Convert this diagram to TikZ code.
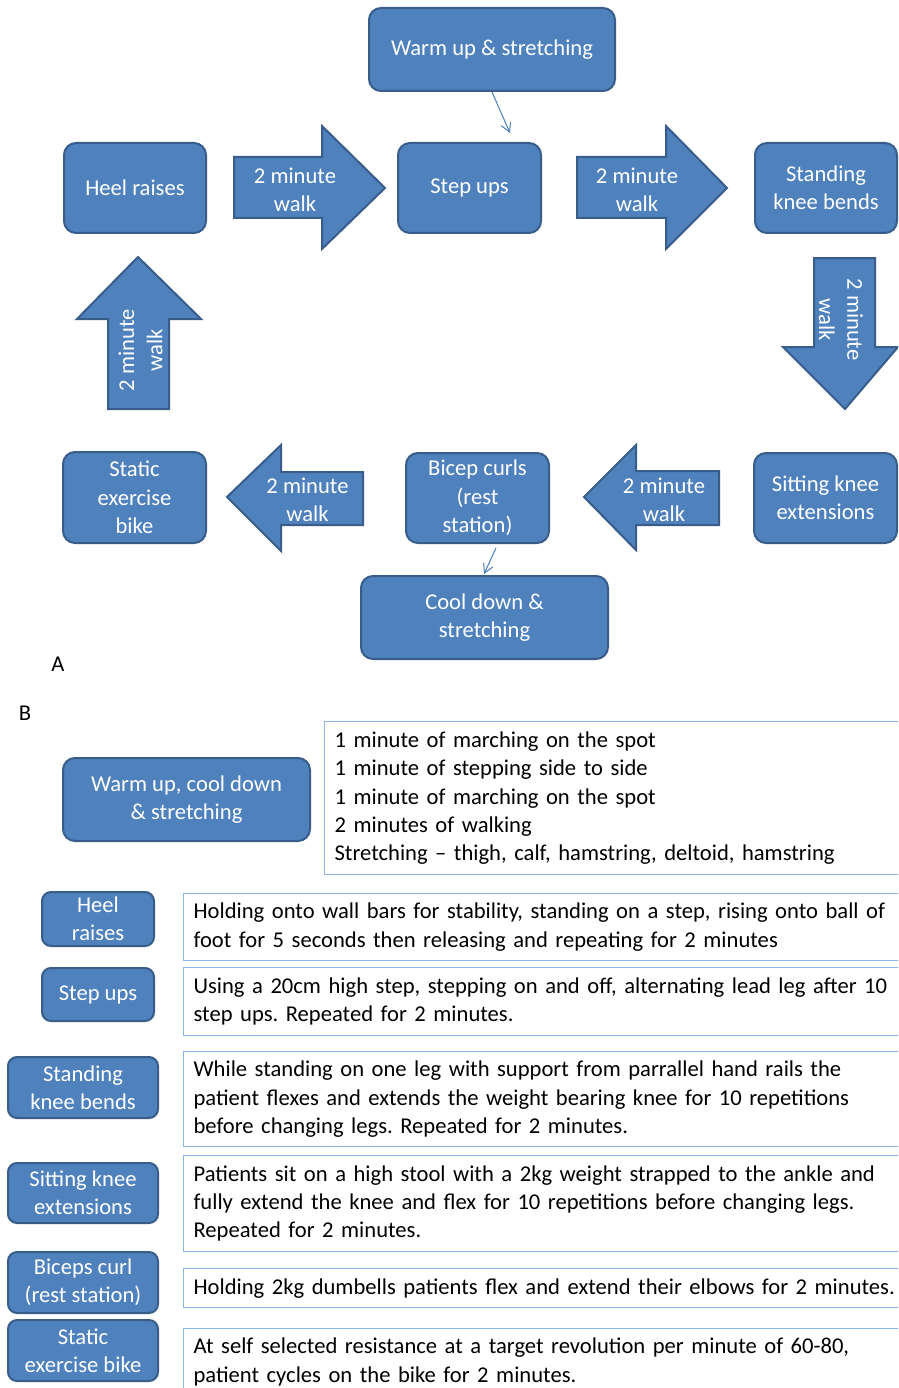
\documentclass[tikz,border=0pt]{standalone}
\usepackage{fontspec}
\setmainfont{Carlito}
\usetikzlibrary{arrows.meta,calc}
\definecolor{boxfill}{HTML}{4F81BD}
\definecolor{boxline}{HTML}{385D8A}
\definecolor{descline}{HTML}{8EB4E3}
\definecolor{conline}{HTML}{4A7EBB}
\frenchspacing
\begin{document}
\begin{tikzpicture}[x=1pt,y=-1pt,
  txt/.style={font=\fontsize{22.6}{28.3}\selectfont},
  stage/.style={txt, draw=boxline, line width=2pt, fill=boxfill, text=white, rounded corners=12pt, align=center, inner sep=0pt},
  smallstage/.style={stage, rounded corners=9pt},
  bigarrow/.style={draw=boxline, line width=2pt, fill=boxfill, line join=miter},
  arrowtext/.style={txt, text=white, align=center, inner sep=0pt},
  desc/.style={txt, draw=descline, line width=1.2pt, align=left, anchor=north west, inner xsep=10pt, inner ysep=0pt, text width=760pt},
  link/.style={draw=conline, line width=1pt, -{Straight Barb[length=9pt,width=10pt]}},
  panel/.style={txt, text=black, inner sep=0pt}
]
\useasboundingbox (0,0) rectangle (898,1388);
\clip (0,0) rectangle (898,1388);
\fill[white] (0,0) rectangle (898,1388);

% ---------- Part A ----------
\node[stage, minimum width=246pt, minimum height=83pt] (warm) at (492,49.5) {Warm up \& stretching};
\node[stage, minimum width=142pt, minimum height=90pt] (heel) at (135,188) {Heel raises};
\node[stage, minimum width=143pt, minimum height=90pt] (steps) at (469.5,188) {Step ups};
\node[stage, minimum width=142pt, minimum height=90pt] (stand) at (826,188) {Standing\\knee bends};
\node[stage, minimum width=143pt, minimum height=90pt] (sit) at (825.5,498) {Sitting knee\\extensions};
\node[stage, minimum width=143pt, minimum height=90pt] (bicep) at (477.5,498) {Bicep curls\\(rest\\station)};
\node[stage, minimum width=143pt, minimum height=91pt] (bike) at (134.5,497.5) {Static\\exercise\\bike};
\node[stage, minimum width=247pt, minimum height=83pt] (cool) at (484.5,617.5) {Cool down \&\\stretching};

% block arrows
\draw[bigarrow] (234,157) -- (322,157) -- (322,126) -- (385,188) -- (322,249) -- (322,218) -- (234,218) -- cycle;
\node[arrowtext] (walk1) at (295,190) {2 minute\\walk};
\draw[bigarrow] (577,157) -- (666,157) -- (666,126) -- (727,188) -- (666,249) -- (666,218) -- (577,218) -- cycle;
\node[arrowtext] (walk2) at (637,190) {2 minute\\walk};
\draw[bigarrow] (814,258) -- (875,258) -- (875,347) -- (898,347) -- (845,409) -- (783,347) -- (814,347) -- cycle;
\node[arrowtext, rotate=-90] (walk3) at (841,319.5) {2 minute\\walk};
\draw[bigarrow] (719,471) -- (636,471) -- (636,445) -- (584,497) -- (636,550) -- (636,525) -- (719,525) -- cycle;
\node[arrowtext] (walk4) at (664,499.5) {2 minute\\walk};
\draw[bigarrow] (363,472) -- (281,472) -- (281,445) -- (227,497) -- (281,551) -- (281,525) -- (363,525) -- cycle;
\node[arrowtext] (walk5) at (307.5,499.5) {2 minute\\walk};
\draw[bigarrow] (108,409) -- (108,319) -- (77,319) -- (138,257) -- (201,319) -- (169,319) -- (169,409) -- cycle;
\node[arrowtext, rotate=90] (walk6) at (140.5,350) {2 minute\\walk};

% thin connectors
\draw[link] (warm.south) -- ($(steps.north)+(40.5,-9)$);
\draw[link] ($(bicep.south)+(18.5,4)$) -- ($(cool.north)+(-0.5,-1)$);

\node[panel] (labA) at (58,664) {A};
\node[panel] (labB) at (25,713) {B};

% ---------- Part B ----------
\node[stage, minimum width=247pt, minimum height=83pt] (wcs) at (186.5,799.5) {Warm up, cool down\\\& stretching};
\node[desc, minimum height=153pt] (wcsd) at (324,721) {1 minute of marching on the spot\\1 minute of stepping side to side\\1 minute of marching on the spot\\2 minutes of walking\\Stretching – thigh, calf, hamstring, deltoid, hamstring};

\node[smallstage, minimum width=112pt, minimum height=54pt] (heelb) at (98,919) {Heel\\raises};
\node[desc, minimum height=67pt] (heeld) at (183,893) {Holding onto wall bars for stability, standing on a step, rising onto ball of\\foot for 5 seconds then releasing and repeating for 2 minutes};

\node[smallstage, minimum width=112pt, minimum height=53pt] (stepb) at (98,994.5) {Step ups};
\node[desc, minimum height=68pt] (stepd) at (183,967) {Using a 20cm high step, stepping on and off, alternating lead leg after 10\\step ups. Repeated for 2 minutes.};

\node[smallstage, minimum width=150pt, minimum height=61pt] (standb) at (83,1087.5) {Standing\\knee bends};
\node[desc, minimum height=95pt] (standd) at (183,1051) {While standing on one leg with support from parrallel hand rails the\\patient flexes and extends the weight bearing knee for 10 repetitions\\before changing legs. Repeated for 2 minutes.};

\node[smallstage, minimum width=150pt, minimum height=60pt] (sitb) at (83,1193) {Sitting knee\\extensions};
\node[desc, minimum height=96pt] (sitd) at (183,1155) {Patients sit on a high stool with a 2kg weight strapped to the ankle and\\fully extend the knee and flex for 10 repetitions before changing legs.\\Repeated for 2 minutes.};

\node[smallstage, minimum width=150pt, minimum height=61pt] (bicb) at (83,1282.5) {Biceps curl\\(rest station)};
\node[desc, minimum height=39pt] (bicd) at (183,1268) {Holding 2kg dumbells patients flex and extend their elbows for 2 minutes.};

\node[smallstage, minimum width=150pt, minimum height=61pt] (bikeb) at (83,1350.5) {Static\\exercise bike};
\node[desc, minimum height=67pt] (biked) at (183,1328) {At self selected resistance at a target revolution per minute of 60-80,\\patient cycles on the bike for 2 minutes.};
\end{tikzpicture}
\end{document}
